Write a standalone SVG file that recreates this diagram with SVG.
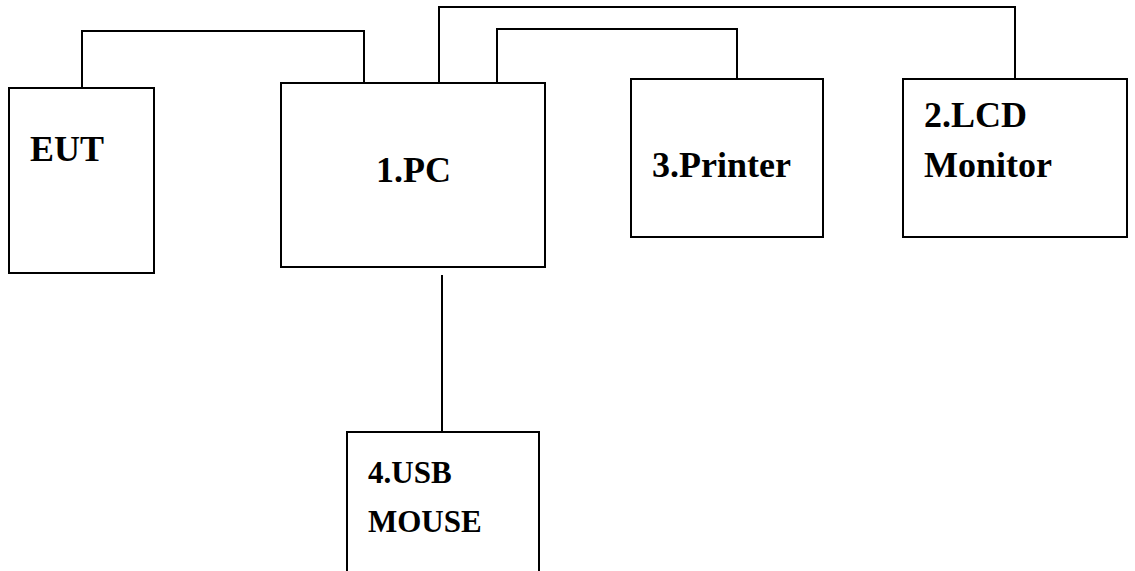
<svg xmlns="http://www.w3.org/2000/svg" width="1135" height="571" viewBox="0 0 1135 571">
<style>
.box{fill:#fff;stroke:#000;stroke-width:2}
.wire{fill:none;stroke:#000;stroke-width:2}
.lbl{font-family:"Liberation Serif","Times New Roman",serif;font-weight:bold;fill:#000}
</style>
<rect width="1135" height="571" fill="#fff"/>
<g id="connectors">
<polyline class="wire" points="82,88 82,31 364,31 364,83"/>
<polyline class="wire" points="439,83 439,7 1015,7 1015,79"/>
<polyline class="wire" points="497,83 497,29 737,29 737,79"/>
<line class="wire" x1="442" y1="275" x2="442" y2="432"/>
</g>
<g id="eut">
<rect class="box" x="9" y="88" width="145" height="185"/>
<text class="lbl" x="30" y="161" font-size="36">EUT</text>
</g>
<g id="pc">
<rect class="box" x="281" y="83" width="264" height="184"/>
<text class="lbl" x="376" y="182" font-size="36">1.PC</text>
</g>
<g id="printer">
<rect class="box" x="631" y="79" width="192" height="158"/>
<text class="lbl" x="652" y="177" font-size="36">3.Printer</text>
</g>
<g id="lcd">
<rect class="box" x="903" y="79" width="224" height="158"/>
<text class="lbl" x="924" y="127" font-size="36">2.LCD</text>
<text class="lbl" x="924" y="177" font-size="36">Monitor</text>
</g>
<g id="mouse">
<rect class="box" x="347" y="432" width="192" height="160"/>
<text class="lbl" x="368" y="483" font-size="31">4.USB</text>
<text class="lbl" x="368" y="532" font-size="31">MOUSE</text>
</g>
</svg>
